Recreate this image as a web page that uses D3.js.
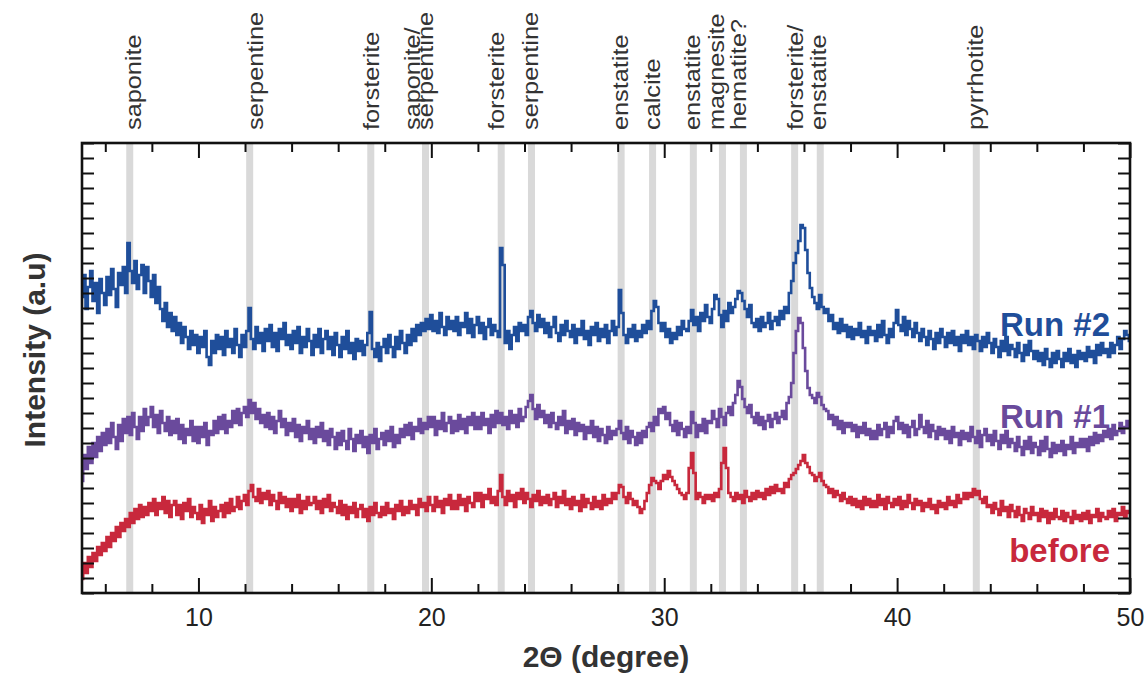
<!DOCTYPE html>
<html><head><meta charset="utf-8">
<script src="https://cdn.jsdelivr.net/npm/d3@7"></script>
<style>body{margin:0;background:#fff;} text{font-family:"Liberation Sans",Arial,Helvetica,sans-serif;}</style>
</head><body><svg id="chart" width="1148" height="678"></svg>
<script>
// 2-theta grid: 5.0 to 50.0 every 0.1 degree
const thetaStart = 5, thetaStep = 0.1;

// Intensity (a.u.), one row per degree (x.0 ... x.9)
const run2 = [
296,318,284,306,322,292,310,280,314,300,
288,316,298,324,304,286,320,308,326,300,
350,322,310,332,304,318,328,300,326,312,
296,318,290,306,284,272,290,266,280,262,
276,258,270,250,266,256,244,262,248,258,
240,256,246,262,236,228,252,240,258,244,
256,238,262,246,254,240,264,248,236,258,
246,262,285,254,244,266,250,260,242,264,
252,268,246,260,242,264,254,270,248,258,
244,262,250,266,240,256,246,264,252,238,
258,246,264,240,254,262,244,256,238,260,
248,236,256,244,262,240,250,234,254,242,
252,238,248,260,281,244,236,250,232,246,
254,240,258,246,236,256,244,262,250,240,
258,248,264,252,268,258,270,262,274,264,
278,262,272,260,280,266,258,276,264,272,
262,276,258,270,266,280,260,274,256,268,
276,260,270,254,266,274,258,268,262,256,
345,328,250,262,244,258,266,252,270,262,
268,258,276,282,270,262,278,266,274,260,
270,256,266,276,260,252,268,258,272,262,
256,268,250,264,258,272,254,262,248,266,
258,270,252,264,256,268,250,262,272,258,
266,303,280,258,250,264,256,268,252,262,
256,268,260,272,264,282,292,286,270,262,
270,256,264,250,260,254,266,258,272,264,
262,272,283,268,276,262,280,272,288,276,
270,284,298,294,278,266,282,272,290,280,
286,294,302,300,292,284,276,288,270,266,
274,262,276,266,270,280,264,272,276,268,
282,274,286,280,300,312,330,340,352,368,
365,343,320,305,296,290,284,298,286,280,
284,272,278,264,270,260,274,262,268,256,
266,254,264,258,270,256,262,250,266,258,
262,252,268,256,272,258,250,264,256,270,
283,268,262,276,258,272,264,256,270,260,
252,264,256,248,262,254,244,260,250,264,
256,246,260,250,262,248,256,242,258,250,
262,248,256,244,258,252,242,256,246,260,
250,240,254,246,236,252,242,256,238,248,
244,236,250,240,232,248,238,252,242,234,
242,232,240,228,244,234,226,240,230,242,
234,226,240,232,244,230,238,226,242,234,
240,232,246,236,242,230,248,238,250,240,
244,236,250,240,248,256,244,254,262,258,
252];

const run1 = [
112,138,124,146,130,150,136,156,142,160,
148,164,150,170,156,144,168,152,174,160,
176,158,180,166,154,176,162,184,168,176,
186,166,178,160,182,170,162,176,158,172,
160,174,154,168,150,164,158,172,152,166,
150,166,156,170,148,162,158,172,160,176,
164,178,160,172,166,182,170,184,168,180,
186,176,193,180,190,174,184,170,178,166,
180,164,176,160,172,182,166,174,158,170,
162,174,156,168,152,166,160,172,154,164,
150,166,156,170,152,162,148,164,156,144,
160,148,162,152,144,164,154,142,158,150,
162,146,156,140,158,150,164,144,154,160,
148,162,152,166,146,158,150,164,156,168,
158,170,154,166,162,174,160,170,164,176,
166,176,158,172,164,180,162,170,176,160,
172,162,178,164,174,160,176,168,180,164,
176,164,180,168,174,160,178,166,182,170,
180,168,176,164,182,170,178,166,184,172,
176,186,192,198,184,174,188,176,182,170,
178,166,180,170,164,176,168,182,160,172,
164,174,158,170,162,168,154,166,160,172,
156,166,152,164,158,150,166,154,162,158,
164,172,160,154,166,150,162,156,148,160,
150,162,156,166,170,162,176,168,184,180,
186,174,180,168,162,172,158,170,164,156,
166,160,181,170,156,168,162,174,160,172,
170,182,174,166,184,176,168,180,186,178,
190,198,212,206,194,186,180,188,176,170,
180,168,176,164,172,178,166,174,180,170,
176,182,174,190,196,210,240,262,275,270,
245,222,205,198,195,190,200,196,188,184,
182,174,178,168,176,164,172,160,170,166,
170,162,168,156,166,160,170,158,164,154,
162,154,168,158,164,170,156,166,160,172,
176,164,170,160,168,156,166,172,158,164,
178,166,160,172,156,168,162,154,166,158,
164,154,162,150,166,156,160,148,162,154,
160,152,166,156,150,162,146,158,164,152,
158,148,162,152,144,158,150,162,146,154,
150,142,156,146,138,152,144,156,140,150,
146,138,152,142,156,144,136,150,140,148,
142,152,138,148,144,156,140,150,146,154,
146,154,142,156,148,160,150,158,152,162,
156,164,154,168,158,162,170,160,166,172,
166];

const before = [
14,30,20,36,26,40,32,46,38,50,
42,56,46,60,52,66,56,70,62,74,
66,80,70,84,74,88,76,86,78,90,
82,94,78,90,84,96,80,92,76,88,
92,78,88,74,90,82,94,76,86,80,
74,88,70,84,78,92,72,86,76,82,
88,76,90,80,94,82,86,96,84,92,
98,88,102,108,96,92,104,90,100,94,
102,88,98,92,84,100,90,96,86,94,
82,94,86,98,80,92,84,96,88,90,
96,84,92,80,94,86,98,82,90,86,
80,92,78,88,74,86,80,90,76,84,
88,76,84,72,86,78,90,80,76,86,
78,90,80,84,74,88,82,92,78,86,
80,92,84,88,78,94,86,90,82,96,
88,82,96,86,92,80,94,88,98,84,
92,84,98,88,94,82,96,90,86,100,
92,100,86,98,94,104,90,96,88,102,
118,96,88,102,92,98,86,100,94,104,
90,100,94,86,98,92,102,88,96,90,
98,88,94,100,86,96,90,102,88,94,
84,96,88,92,82,98,86,94,90,84,
96,86,92,84,98,88,94,90,100,94,
100,108,106,96,90,100,94,88,92,86,
80,84,92,100,108,115,112,110,104,112,
118,114,122,116,112,108,104,100,98,94,
100,125,140,120,94,100,96,90,98,94,
98,92,100,96,104,130,145,125,100,96,
92,100,94,98,90,102,96,92,100,94,
102,96,100,94,104,98,106,100,108,102,
104,100,110,106,114,118,120,124,128,132,
138,130,126,120,118,112,116,120,112,108,
106,100,104,96,102,98,92,100,94,90,
96,88,94,86,92,84,96,88,94,86,
92,86,98,88,94,84,96,90,86,94,
88,96,84,92,86,98,90,84,94,88,
92,82,90,86,94,84,88,80,92,86,
90,84,96,88,92,86,98,90,94,100,
94,100,96,104,98,102,94,90,96,86,
88,80,90,84,78,92,82,86,76,88,
82,76,86,78,72,84,80,74,86,78,
80,72,84,76,82,70,80,74,84,76,
74,82,72,80,76,70,82,74,78,72,
80,74,82,70,78,76,84,72,80,76,
74,82,76,84,72,80,78,86,76,82,
80];

const seriesNames = ["Run #2", "Run #1", "before"];
const bandPos = [7.05, 12.2, 17.4, 19.75, 23.0, 24.3, 28.15, 29.5, 31.25, 32.5, 33.4, 35.6, 36.7, 43.4];
const labelPos = [7.19, 12.43, 17.41, 19.17, 19.73, 22.78, 24.24, 28.1, 29.47, 31.19, 32.22, 33.17, 35.61, 36.6, 43.34];
const labelText = ["saponite", "serpentine", "forsterite", "saponite/", "serpentine", "forsterite", "serpentine",
  "enstatite", "calcite", "enstatite", "magnesite", "hematite?", "forsterite/", "enstatite", "pyrrhotite"];
const xMajorTicks = [10, 20, 30, 40, 50];
const xMinorTicks = [6, 8, 12, 14, 16, 18, 22, 24, 26, 28, 32, 34, 36, 38, 42, 44, 46, 48];

const colors = ["#1f4e9a", "#6a4a9c", "#c8283c"];
const M = {left: 82, right: 1130, top: 143, bottom: 593};

const svg = d3.select("#chart");
const x = d3.scaleLinear().domain([5, 50]).range([M.left, M.right]);
const y = d3.scaleLinear().domain([0, 450]).range([M.bottom, M.top]);

svg.append("defs").append("clipPath").attr("id", "clip")
  .append("rect").attr("x", M.left).attr("y", M.top).attr("width", M.right - M.left).attr("height", M.bottom - M.top);

// gray reference bands
svg.append("g").selectAll("rect").data(bandPos).join("rect")
  .attr("x", d => x(d) - 3.5).attr("width", 7)
  .attr("y", M.top).attr("height", M.bottom - M.top)
  .attr("fill", "#d9d9d9");

// series
const series = [run2, run1, before];
const line = d3.line()
  .x((d, i) => x(thetaStart + thetaStep * i))
  .y(d => y(d))
  .curve(d3.curveStep);
svg.append("g").attr("clip-path", "url(#clip)").selectAll("path").data(series).join("path")
  .attr("d", d => line(d))
  .attr("fill", "none")
  .attr("stroke", (d, i) => colors[i])
  .attr("stroke-width", 2.6)
  .attr("stroke-linejoin", "miter");

// axes / ticks
function styleAxis(g) {
  g.select(".domain").remove();
  g.selectAll("line").attr("stroke", "#111").attr("stroke-width", 2);
}
svg.append("g").attr("transform", `translate(0,${M.bottom})`)
  .call(d3.axisBottom(x).tickValues(xMinorTicks).tickSize(-9).tickFormat(""))
  .call(styleAxis);
svg.append("g").attr("transform", `translate(0,${M.bottom})`)
  .call(d3.axisBottom(x).tickValues(xMajorTicks).tickSize(-15).tickPadding(15).tickFormat(d3.format("d")))
  .call(styleAxis)
  .call(g => g.selectAll("text").attr("font-size", 25).attr("fill", "#222"));
svg.append("g").attr("transform", `translate(0,${M.top})`)
  .call(d3.axisTop(x).tickValues(xMinorTicks).tickSize(-9).tickFormat(""))
  .call(styleAxis);
svg.append("g").attr("transform", `translate(0,${M.top})`)
  .call(d3.axisTop(x).tickValues(xMajorTicks).tickSize(-15).tickFormat(""))
  .call(styleAxis);
const yTicks = d3.range(0, 451, 15);
svg.append("g").attr("transform", `translate(${M.left},0)`)
  .call(d3.axisLeft(y).tickValues(yTicks).tickSize(-12).tickFormat(""))
  .call(styleAxis);
svg.append("g").attr("transform", `translate(${M.right},0)`)
  .call(d3.axisRight(y).tickValues(yTicks).tickSize(-12).tickFormat(""))
  .call(styleAxis);

// frame
svg.append("rect").attr("x", M.left).attr("y", M.top)
  .attr("width", M.right - M.left).attr("height", M.bottom - M.top)
  .attr("fill", "none").attr("stroke", "#111").attr("stroke-width", 2.6);

// mineral labels
svg.append("g").selectAll("text").data(labelText).join("text")
  .attr("transform", (d, i) => `translate(${x(labelPos[i])},130) rotate(-90) scale(1.15,1)`)
  .attr("dy", "0.35em")
  .attr("font-size", 22)
  .attr("fill", "#333")
  .text(d => d);

// axis titles
svg.append("text").attr("x", (M.left + M.right) / 2).attr("y", 667)
  .attr("text-anchor", "middle").attr("font-size", 30).attr("font-weight", "bold").attr("fill", "#333")
  .text("2Θ (degree)");
svg.append("text").attr("transform", "translate(45,350) rotate(-90)")
  .attr("text-anchor", "middle").attr("font-size", 30).attr("font-weight", "bold").attr("fill", "#333")
  .text("Intensity (a.u)");

// series labels
const legendY = [336, 428, 562];
svg.append("g").selectAll("text").data(seriesNames).join("text")
  .attr("x", 1110).attr("y", (d, i) => legendY[i])
  .attr("text-anchor", "end").attr("font-size", 33).attr("font-weight", "bold")
  .attr("fill", (d, i) => colors[i])
  .text(d => d);
</script></body></html>
